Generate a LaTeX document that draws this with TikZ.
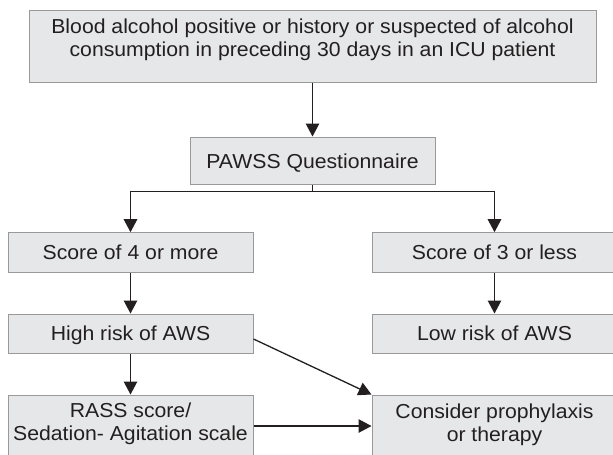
\documentclass[tikz,border=0pt]{standalone}
\usepackage{fontspec}
\setmainfont{Liberation Sans}[FakeStretch=1.05]
\usetikzlibrary{arrows.meta,calc}
\definecolor{boxfill}{HTML}{E6E7E8}
\definecolor{boxline}{HTML}{999999}
\definecolor{ink}{HTML}{231F20}
\begin{document}
\begin{tikzpicture}[x=1pt,y=-1pt,
  fbox/.style={draw=boxline,fill=boxfill,line width=1pt,inner sep=0pt,text=ink,
    font=\fontsize{20.2}{23}\selectfont,text height=14.5pt,text depth=0pt},
  ftxt/.style={inner sep=0pt,text=ink,align=center,font=\fontsize{20.2}{23}\selectfont},
  conn/.style={draw=ink,line width=1.3pt},
  arr/.style={conn,-{Triangle[length=13pt,width=13.5pt]}}]
\useasboundingbox (0,0) rectangle (613,455);
\fill[white] (0,0) rectangle (613,455);
% boxes
\node[fbox,minimum width=567pt,minimum height=72pt] (top) at (312.5,46) {};
\node[ftxt] (toptxt) at (312.5,39.4) {Blood alcohol positive or history or suspected of alcohol\\consumption in preceding 30 days in an ICU patient};
\node[fbox,minimum width=245pt,minimum height=47.5pt] (pawss) at (312.5,160.75) {PAWSS Questionnaire};
\node[fbox,minimum width=245pt,minimum height=40pt] (s4) at (130.5,252.7) {Score of 4 or more};
\node[fbox,minimum width=245pt,minimum height=40pt] (s3) at (494.5,252.7) {Score of 3 or less};
\node[fbox,minimum width=245pt,minimum height=39pt] (hr) at (130.5,333.5) {High risk of AWS};
\node[fbox,minimum width=245pt,minimum height=39pt] (lr) at (494.5,333.5) {Low risk of AWS};
\node[fbox,minimum width=245pt,minimum height=62pt] (rass) at (130.5,426) {};
\node[ftxt] (rasstxt) at (130.5,423.4) {RASS score/\\Sedation- Agitation scale};
\node[fbox,minimum width=245pt,minimum height=62pt] (cons) at (494.5,426) {};
\node[ftxt] (constxt) at (494.5,424.9) {Consider prophylaxis\\or therapy};
% connectors
\coordinate (split) at (312.5,191.7);
\draw[arr] (top.south) -- (pawss.north);
\draw[conn] (pawss.south) -- (split);
\draw[arr] (split) -| (s4.north);
\draw[arr] (split) -| (s3.north);
\draw[arr] (s4.south) -- (hr.north);
\draw[arr] (s3.south) -- (lr.north);
\draw[arr] (hr.south) -- (rass.north);
\draw[arr] ($(hr.east)+(0,5.5)$) -- (cons.north west);
\draw[arr] (rass.east) -- (cons.west);
\end{tikzpicture}
\end{document}
